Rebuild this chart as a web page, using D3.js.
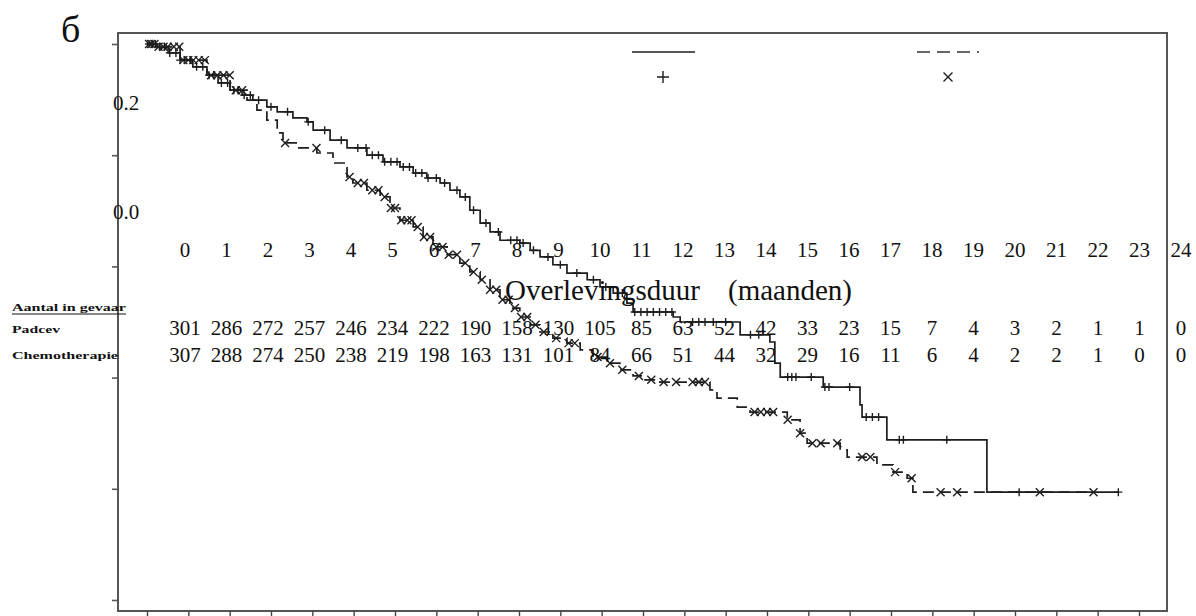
<!DOCTYPE html>
<html>
<head>
<meta charset="utf-8">
<script src="https://cdn.jsdelivr.net/npm/d3@7"></script>
<style>
  html, body { margin: 0; padding: 0; background: #fff; }
  svg { display: block; }
  text { font-family: "Liberation Serif", "DejaVu Serif", serif; fill: #111; }
  .small { font-family: "Liberation Serif", serif; font-weight: bold; }
</style>
</head>
<body>
<svg id="chart" width="1196" height="616"></svg>
<script>
// Kaplan–Meier survival: Padcev vs chemotherapie (months on x, survival fraction on y)
const monthTicks = [0,1,2,3,4,5,6,7,8,9,10,11,12,13,14,15,16,17,18,19,20,21,22,23,24];
const survTicks = [0, 0.2, 0.4, 0.6, 0.8, 1.0];

// Padcev step curve: drop times (months) and survival after each drop
const padcevTime = [0,0.24,0.51,0.80,1.11,1.45,1.72,2.01,2.30,2.56,2.90,3.15,3.53,3.87,4.02,4.43,4.84,5.32,5.71,6.12,6.44,6.77,7.09,7.33,7.57,7.81,8.06,8.30,8.54,9.02,9.27,9.51,9.82,10.16,10.65,10.96,11.28,11.61,11.76,12.73,12.90,14.35,15.07,15.19,15.32,16.36,17.25,17.30,17.90,20.32,23.5];
const padcevSurv = [1.0,0.995,0.984,0.971,0.959,0.944,0.930,0.917,0.908,0.899,0.887,0.878,0.867,0.860,0.845,0.827,0.813,0.800,0.788,0.779,0.768,0.759,0.750,0.737,0.725,0.701,0.678,0.662,0.647,0.642,0.629,0.617,0.603,0.588,0.576,0.563,0.552,0.534,0.518,0.509,0.500,0.477,0.464,0.426,0.401,0.383,0.351,0.329,0.288,0.194,0.194];

// Chemotherapie step curve
const chemoTime = [0,0.24,0.80,1.45,2.01,2.42,2.66,2.90,3.15,3.29,3.63,4.11,4.50,4.84,4.98,5.32,5.64,5.88,6.12,6.44,6.68,6.92,7.26,7.57,7.81,8.06,8.30,8.54,8.78,9.02,9.27,9.51,9.82,10.16,10.48,10.79,11.13,11.44,11.76,12.05,12.41,13.62,13.79,14.28,14.59,15.49,15.80,15.97,16.77,16.94,17.66,18.05,18.39,18.53,22.9];
const chemoSurv = [1.0,0.995,0.971,0.944,0.917,0.899,0.881,0.863,0.840,0.822,0.813,0.804,0.786,0.761,0.750,0.737,0.725,0.705,0.683,0.671,0.653,0.635,0.621,0.606,0.590,0.576,0.558,0.540,0.525,0.509,0.495,0.482,0.471,0.462,0.450,0.437,0.426,0.414,0.403,0.396,0.392,0.378,0.363,0.347,0.338,0.324,0.300,0.282,0.270,0.257,0.243,0.230,0.219,0.194,0.194];

// Censored observations (months)
const padcevCensor = [0.05,0.12,0.2,0.3,0.42,0.55,0.7,0.8,0.9,1.05,1.2,1.35,1.5,1.62,1.8,1.95,2.1,2.2,2.35,2.5,2.7,3.0,3.4,3.9,4.3,4.7,5.1,5.3,5.45,5.6,5.75,5.9,6.05,6.2,6.35,6.5,6.65,6.8,7.0,7.2,7.5,7.7,7.9,8.2,8.5,8.8,8.95,9.1,9.35,9.7,10.0,10.4,10.8,11.1,11.5,11.8,11.95,12.1,12.25,12.4,12.55,12.7,13.2,13.35,13.5,13.7,14.0,14.6,14.8,15.5,15.6,15.7,16.07,16.4,16.5,17.0,17.4,17.55,17.7,18.2,18.3,19.35,21.1,23.5];
const chemoCensor = [0.05,0.1,0.18,0.28,0.4,0.5,0.65,0.78,0.88,1.0,1.12,1.25,1.4,1.55,1.7,1.85,2.0,2.15,2.3,3.34,4.1,4.9,5.1,5.25,5.45,5.6,5.75,5.9,6.0,6.15,6.3,6.4,6.55,6.7,6.85,7.0,7.15,7.3,7.5,7.7,7.9,8.1,8.3,8.45,8.6,8.75,8.9,9.05,9.2,9.4,9.6,9.9,10.2,10.35,10.9,11.2,11.5,11.9,12.2,12.5,12.8,13.2,13.35,13.5,14.7,14.85,15.0,15.15,15.5,15.8,16.1,16.3,16.7,17.3,17.5,18.1,18.5,19.2,19.6,21.6,22.9];

// Numbers at risk per month
const riskHeader = ["Aantal in gevaar"];
const groupNames = ["Padcev", "Chemotherapie"];
const padcevAtRisk = [301,286,272,257,246,234,222,190,158,130,105,85,63,52,42,33,23,15,7,4,3,2,1,1,0];
const chemoAtRisk = [307,288,274,250,238,219,198,163,131,101,84,66,51,44,32,29,16,11,6,4,2,2,1,0,0];

const axisTitle = ["Overlevingsduur", "(maanden)"];
const stray = [{t: "0.2", y: 110}, {t: "0.0", y: 219}];

const svg = d3.select("#chart");

const x = d3.scaleLinear().domain([0, 24]).range([147, 1139]);
const y = d3.scaleLinear().domain([0, 1]).range([600, 44]);
const riskX = d3.scaleLinear().domain([0, 24]).range([185, 1181]);

const frame = {x0: 118, y0: 33, x1: 1167, y1: 611};

// Plot frame
svg.append("rect")
  .attr("x", frame.x0).attr("y", frame.y0)
  .attr("width", frame.x1 - frame.x0).attr("height", frame.y1 - frame.y0)
  .attr("fill", "none").attr("stroke", "#555").attr("stroke-width", 2);

// Axes (ticks only)
const yAxis = d3.axisLeft(y).tickValues(survTicks).tickFormat("").tickSize(6).tickSizeOuter(0);
svg.append("g").attr("transform", `translate(${frame.x0},0)`).call(yAxis)
  .call(g => g.select(".domain").remove())
  .call(g => g.selectAll("line").attr("stroke", "#555").attr("stroke-width", 1.6));

const xAxis = d3.axisBottom(x).tickValues(monthTicks).tickFormat("").tickSize(6).tickSizeOuter(0);
svg.append("g").attr("transform", `translate(0,${frame.y1})`).call(xAxis)
  .call(g => g.select(".domain").remove())
  .call(g => g.selectAll("line").attr("stroke", "#444").attr("stroke-width", 1.4));

// Survival curves
const line = d3.line().x(d => x(d[0])).y(d => y(d[1])).curve(d3.curveStepAfter);
const padcevPts = padcevTime.map((t, i) => [t, padcevSurv[i]]);
const chemoPts = chemoTime.map((t, i) => [t, chemoSurv[i]]);

svg.append("path").attr("d", line(padcevPts))
  .attr("fill", "none").attr("stroke", "#1e1e1e").attr("stroke-width", 1.7);
svg.append("path").attr("d", line(chemoPts))
  .attr("fill", "none").attr("stroke", "#1e1e1e").attr("stroke-width", 1.7)
  .attr("stroke-dasharray", "11,6");

function survAt(times, surv, t) {
  const i = d3.bisectRight(times, t) - 1;
  return surv[Math.max(0, i)];
}

// Censor marks
const plus = (g, cx, cy, r) => g.append("path")
  .attr("d", `M${cx - r},${cy}H${cx + r}M${cx},${cy - r}V${cy + r}`)
  .attr("stroke", "#1e1e1e").attr("stroke-width", 1.4).attr("fill", "none");
const cross = (g, cx, cy, r) => g.append("path")
  .attr("d", `M${cx - r},${cy - r}L${cx + r},${cy + r}M${cx - r},${cy + r}L${cx + r},${cy - r}`)
  .attr("stroke", "#1e1e1e").attr("stroke-width", 1.4).attr("fill", "none");

const marks = svg.append("g");
padcevCensor.forEach(t => plus(marks, x(t), y(survAt(padcevTime, padcevSurv, t)), 4));
chemoCensor.forEach(t => cross(marks, x(t), y(survAt(chemoTime, chemoSurv, t)), 4));

// Legend samples
const leg = svg.append("g");
leg.append("line").attr("x1", 632).attr("x2", 695).attr("y1", 52).attr("y2", 52)
  .attr("stroke", "#555").attr("stroke-width", 2);
plus(leg, 663, 77, 6);
leg.append("line").attr("x1", 917).attr("x2", 981).attr("y1", 52).attr("y2", 52)
  .attr("stroke", "#666").attr("stroke-width", 2).attr("stroke-dasharray", "13,7,13,7,13,7,2,5");
cross(leg, 948, 77, 4.5);

// Panel letter
svg.append("text").attr("x", 61).attr("y", 42).attr("font-size", 38).text("б");

// Stray scale labels
svg.selectAll("text.stray").data(stray).join("text").attr("class", "stray")
  .attr("x", 113).attr("y", d => d.y).attr("font-size", 21).text(d => d.t);

// Month labels for the at-risk table
svg.selectAll("text.mlab").data(monthTicks).join("text").attr("class", "mlab")
  .attr("x", d => riskX(d)).attr("y", 257).attr("text-anchor", "middle")
  .attr("font-size", 21).text(d => d);

// Axis title
const title = svg.append("text").attr("x", 505).attr("y", 300).attr("font-size", 29);
title.append("tspan").text(axisTitle[0]);
title.append("tspan").attr("x", 728).text(axisTitle[1]);

// At-risk table
svg.append("text").attr("class", "small").attr("x", 12).attr("y", 311)
  .attr("font-size", 11).attr("textLength", 114).attr("lengthAdjust", "spacingAndGlyphs")
  .text(riskHeader[0]);
svg.append("line").attr("x1", 12).attr("x2", 126).attr("y1", 314).attr("y2", 314)
  .attr("stroke", "#111").attr("stroke-width", 1);
svg.append("text").attr("class", "small").attr("x", 12).attr("y", 333)
  .attr("font-size", 11).attr("textLength", 48).attr("lengthAdjust", "spacingAndGlyphs")
  .text(groupNames[0]);
svg.append("text").attr("class", "small").attr("x", 12).attr("y", 359)
  .attr("font-size", 11).attr("textLength", 106).attr("lengthAdjust", "spacingAndGlyphs")
  .text(groupNames[1]);

svg.selectAll("text.r1").data(padcevAtRisk).join("text").attr("class", "r1")
  .attr("x", (d, i) => riskX(monthTicks[i])).attr("y", 335).attr("text-anchor", "middle")
  .attr("font-size", 21).text(d => d);
svg.selectAll("text.r2").data(chemoAtRisk).join("text").attr("class", "r2")
  .attr("x", (d, i) => riskX(monthTicks[i])).attr("y", 362).attr("text-anchor", "middle")
  .attr("font-size", 21).text(d => d);
</script>
</body>
</html>
